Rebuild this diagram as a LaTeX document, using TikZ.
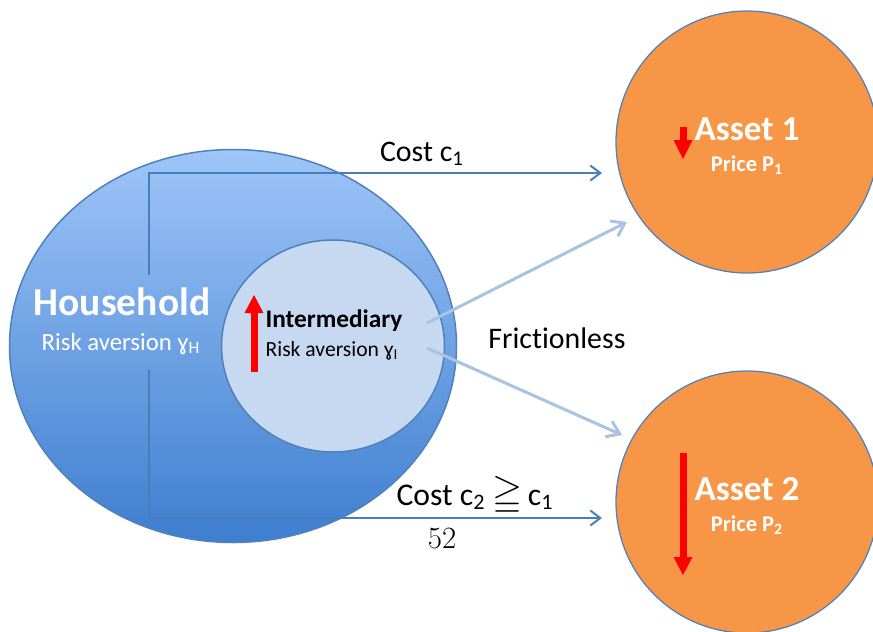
\documentclass[tikz,border=0pt]{standalone}
\usepackage{amssymb}
\usepackage{fontspec}
\newfontfamily\carlito[Ligatures=NoCommon]{Carlito}
\usepackage{tikz}
\usetikzlibrary{arrows.meta}
\usetikzlibrary{shapes.geometric, positioning, calc}
\usepackage{xcolor}

\definecolor{hhtop}{HTML}{9EC5F8}
\definecolor{hhbottom}{HTML}{3E7ECF}
\definecolor{hhline}{HTML}{4F81BD}
\definecolor{interfill}{HTML}{C6D9F0}
\definecolor{assetfill}{HTML}{F79646}
\definecolor{costline}{HTML}{4A7EBB}
\definecolor{fricline}{HTML}{A9C3E0}

\begin{document}
\begin{tikzpicture}[x=0.2mm, y=-0.2mm,
    oval/.style={ellipse, inner sep=0pt, draw=hhline, line width=0.3mm},
    assetcirc/.style={circle, inner sep=0pt, minimum size=52.4mm, fill=assetfill, draw=hhline, line width=0.25mm},
    cost/.style={costline, line width=0.4mm, -{Straight Barb[length=2mm, width=3mm]}},
    fric/.style={fricline, line width=0.6mm, -{Straight Barb[length=2.4mm, width=3.4mm]}},
    redarrow/.style={red, line width=1.4mm, -{Triangle[length=#1, width=3.8mm, line width=0pt]}},
    txt/.style={font=\carlito\fontsize{17}{20}\selectfont, anchor=base, inner sep=0pt},
    bigname/.style={font=\carlito\fontsize{22.5}{26}\selectfont\bfseries, text=white, anchor=base, inner sep=0pt},
    smalltxt/.style={font=\carlito\fontsize{12.3}{15}\selectfont, anchor=base, inner sep=0pt},
    assetname/.style={font=\carlito\fontsize{20}{24}\selectfont\bfseries, text=white, anchor=base, inner sep=0pt},
    pricetxt/.style={font=\carlito\fontsize{12.8}{15}\selectfont\bfseries, text=white, anchor=base, inner sep=0pt}]
  \useasboundingbox (0,0) rectangle (873,631);

  % the two agents
  \node[oval, minimum width=89.4mm, minimum height=78.6mm, top color=hhtop, bottom color=hhbottom] (household) at (233,346) {};
  \node[bigname] (hhname) at (122,315) {Household};
  \node[smalltxt, text=white, font=\carlito\fontsize{14.1}{16}\selectfont] (hhrisk) at (121,350) {Risk aversion ɣ\textsubscript{H}};

  % cost paths to the assets
  \coordinate (c1 start) at (149,275);
  \coordinate (c1 end) at (602,173);
  \coordinate (c2 start) at (149,370);
  \coordinate (c2 end) at (602,518);
  \draw[cost] (c1 start) |- (c1 end);
  \draw[cost] (c2 start) |- (c2 end);

  \node[oval, minimum width=44.6mm, minimum height=42.4mm, fill=interfill] (inter) at (333,346) {};
  \node[smalltxt, font=\carlito\fontsize{14.4}{16}\selectfont\bfseries] (intername) at (334,327) {Intermediary};
  \node[smalltxt] (interrisk) at (332,356) {Risk aversion ɣ\textsubscript{I}};
  \draw[redarrow=3.6mm] (254,372) -- (254,295);

  % assets
  \node[assetcirc] (asset1) at (747,142) {};
  \node[assetcirc] (asset2) at (747,502) {};
  \node[assetname] (a1name) at (747,140) {Asset 1};
  \node[pricetxt] (a1price) at (747,171) {Price P\textsubscript{1}};
  \node[assetname] (a2name) at (747,500) {Asset 2};
  \node[pricetxt] (a2price) at (747,531) {Price P\textsubscript{2}};
  \draw[redarrow=3.8mm] (683,127) -- (683,159);
  \draw[redarrow=3.6mm] (683,453) -- (683,575);

  % frictionless trades of the intermediary
  \coordinate (f1 start) at (427,323);
  \coordinate (f1 end) at (627,222);
  \coordinate (f2 start) at (427,348);
  \coordinate (f2 end) at (622,435);
  \draw[fric] (f1 start) -- (f1 end);
  \draw[fric] (f2 start) -- (f2 end);

  \node[txt] (costa) at (422,161) {Cost c\textsubscript{1}};
  \node[txt, font=\carlito\fontsize{18}{20}\selectfont] (costb) at (475,505) {Cost c\textsubscript{2} {\fontsize{22}{24}\selectfont$\geqq$}\,c\textsubscript{1}};
  \node[txt] (fricless) at (557,348) {Frictionless};
  \node[anchor=base, inner sep=0pt, font=\fontsize{17.6}{20}\selectfont] (pagenum) at (442,548) {52};
\end{tikzpicture}
\end{document}
